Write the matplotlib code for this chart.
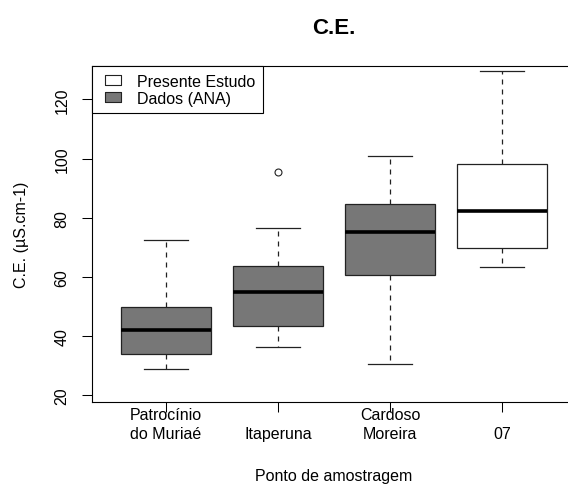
import matplotlib
matplotlib.use('Agg')
import matplotlib.pyplot as plt
from matplotlib.lines import Line2D

plt.rcParams['font.family'] = ['Liberation Sans', 'DejaVu Sans']

# Pontos de amostragem e estatísticas
pontos = ['Patrocínio\ndo Muriaé', 'Itaperuna', 'Cardoso\nMoreira', '07']
whislo = [28.7, 36.1, 30.5, 63.4]
q1 = [33.8, 43.5, 60.5, 69.7]
med = [42.0, 55.0, 75.3, 82.4]
q3 = [49.7, 63.8, 84.5, 98.1]
whishi = [72.3, 76.4, 100.8, 129.6]
outliers = [[], [95.6], [], []]
origem = ['ANA', 'ANA', 'ANA', 'Presente']
cores = {'ANA': '#777777', 'Presente': 'white'}

stats = []
for i in range(len(pontos)):
    stats.append(dict(whislo=whislo[i], q1=q1[i], med=med[i], q3=q3[i],
                      whishi=whishi[i], fliers=outliers[i]))

fig = plt.figure(figsize=(5.68, 4.85), dpi=100)
ax = fig.add_axes([0.162, 0.169, 0.852, 0.693])

bp = ax.bxp(stats, positions=[1, 2, 3, 4], widths=0.8, capwidths=0.4,
            patch_artist=True, showfliers=True,
            boxprops=dict(edgecolor='#222222', linewidth=0.9),
            medianprops=dict(color='black', linewidth=2.6, solid_capstyle='butt'),
            whiskerprops=dict(color='#222222', linewidth=0.9, linestyle=(0, (4, 4))),
            capprops=dict(color='#222222', linewidth=0.9),
            flierprops=dict(marker='o', markersize=5, markerfacecolor='none',
                            markeredgecolor='#222222', markeredgewidth=0.8))
for caixa, o in zip(bp['boxes'], origem):
    caixa.set_facecolor(cores[o])

ax.set_xlim(0.34, 4.66)
ax.set_ylim(17.63, 131.33)
ax.set_yticks([20, 40, 60, 80, 100, 120])
ax.set_xticks([1, 2, 3, 4])
ax.set_xticklabels(pontos, fontsize=11.5, linespacing=1.4)
for lab in ax.get_xticklabels():
    lab.set_verticalalignment('bottom')
ax.tick_params(axis='x', length=7.2, width=0.75, pad=21.2)
ax.tick_params(axis='y', length=7.2, width=0.75, pad=9, labelsize=11.5)
for lab in ax.get_yticklabels():
    lab.set_rotation(90)
    lab.set_verticalalignment('center')
for s in ax.spines.values():
    s.set_linewidth(0.8)
ax.spines['right'].set_visible(False)

ax.set_title('C.E.', fontsize=16, fontweight='bold', pad=24)
ax.set_xlabel('Ponto de amostragem', fontsize=11.5)
ax.xaxis.set_label_coords(0.5, -0.196)
ax.set_ylabel('C.E. (µS.cm-1)', fontsize=11.5)
ax.yaxis.set_label_coords(-0.13, 0.5)

caixa_marker = [(-1, -0.6), (1, -0.6), (1, 0.6), (-1, 0.6), (-1, -0.6)]
handles = [Line2D([], [], linestyle='none', marker=caixa_marker, markersize=11,
                  markerfacecolor=cores['Presente'], markeredgecolor='#222222',
                  markeredgewidth=0.8),
           Line2D([], [], linestyle='none', marker=caixa_marker, markersize=11,
                  markerfacecolor=cores['ANA'], markeredgecolor='#222222',
                  markeredgewidth=0.8)]
leg = ax.legend(handles, ['Presente Estudo', 'Dados (ANA)'], loc='upper left',
                bbox_to_anchor=(0, 1), borderaxespad=0, fancybox=False,
                framealpha=1, edgecolor='black', fontsize=11.5,
                handlelength=1.6, handletextpad=0.7, labelspacing=0.1,
                borderpad=0.5)
leg.get_frame().set_linewidth(0.8)

fig.savefig('out.png', dpi=100)
